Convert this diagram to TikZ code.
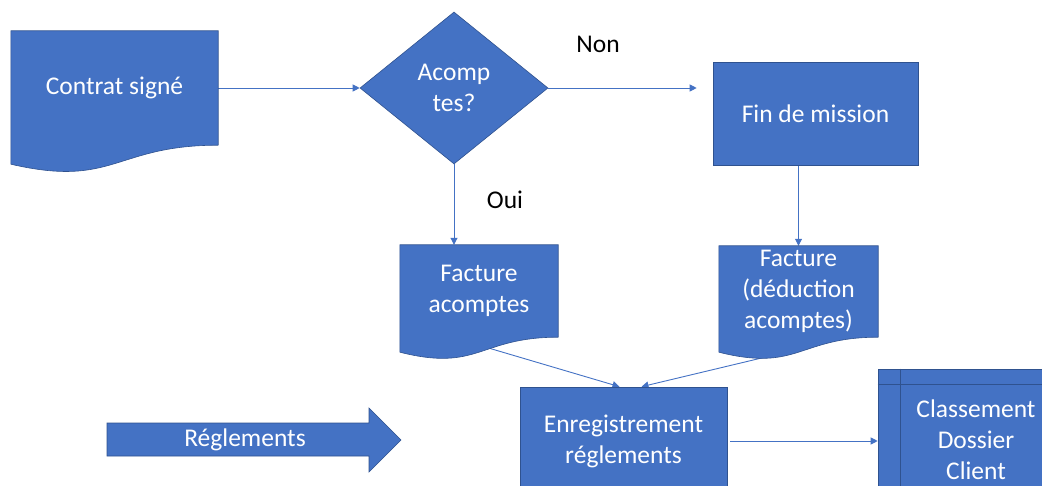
\documentclass[tikz,border=0pt]{standalone}
\usepackage{fontspec}
\setmainfont{Carlito}
\usetikzlibrary{shapes.geometric,arrows.meta,calc}
\definecolor{boxblue}{HTML}{4472C4}
\definecolor{boxedge}{HTML}{2F528F}
\pgfdeclarelayer{lines}
\pgfdeclarelayer{background}
\pgfsetlayers{lines,background,main}

% document shape: wavy bottom under the text node #1
\newcommand{\docwave}[3]{%
  \begin{pgfonlayer}{background}
    \filldraw[box] (#1.north west) -- (#1.north east) -- (#1.south east)
      .. controls (#1.south) and ($(#1.south)+(0,#2)$) .. ($(#1.south west)+(0,#3)$) -- cycle;
  \end{pgfonlayer}}

\begin{document}
\begin{tikzpicture}[x=1pt,y=-1pt,
    box/.style={fill=boxblue, draw=boxedge, line width=0.6pt},
    txt/.style={text=white, font=\fontsize{25.5}{31}\selectfont, align=center, inner sep=0pt},
    lbl/.style={font=\fontsize{25.5}{31}\selectfont, inner sep=0pt},
    link/.style={draw=boxblue, line width=0.9pt, -{Triangle[length=7pt,width=7pt]}}]
  \clip (0,0) rectangle (1042,486);

  \node[txt, minimum width=207, minimum height=114] (ctr) at (114.5,88) {Contrat signé};
  \docwave{ctr}{43}{19}
  \node[txt, box, diamond, minimum width=188, minimum height=152] (dec) at (454,88) {Acomp\\tes?};
  \node[txt, box, minimum width=205, minimum height=103] (fin) at (815.5,113.5) {Fin de mission};
  \node[txt, minimum width=158, minimum height=92] (fac1) at (479,291) {Facture\\acomptes};
  \docwave{fac1}{35}{15}
  \node[txt, minimum width=159, minimum height=91] (fac2) at (798.5,291.5) {Facture\\(déduction\\acomptes)};
  \docwave{fac2}{35}{15}
  \node[txt, box, minimum width=207, minimum height=108] (enr) at (623.5,441) {Enregistrement\\réglements};

  % stockage interne
  \node[txt, box, minimum width=196, minimum height=142] (cls) at (976,440) {Classement\\Dossier\\Client};
  \draw[boxedge, line width=0.6pt] ($(cls.north west)+(0,16)$) -- ($(cls.north east)+(0,16)$);
  \draw[boxedge, line width=0.6pt] ($(cls.north west)+(23,0)$) -- ($(cls.south west)+(23,0)$);

  % fleche pleine
  \filldraw[box] (107,423) -- (369,423) -- (369,408) -- (401,440) -- (369,472) -- (369,456) -- (107,456) -- cycle;
  \node[txt] (reg) at (245,440) {Réglements};

  \node[lbl] (non) at (598,44) {Non};
  \node[lbl] (oui) at (505,200) {Oui};

  \begin{pgfonlayer}{lines}
    \draw[link] (ctr.east) -- (dec.west);
    \draw[link, shorten >=16pt] (dec.east) -- (dec.east -| fin.west);
    \draw[link] (dec.south) -- (dec.south |- fac1.north);
    \draw[link] (fac2.north |- fin.south) -- (fac2.north);
    \draw[link] ($(fac1.south)+(0,8)$) -- ([xshift=-4pt]enr.north);
    \draw[link] ($(fac2.south)+(0,12)$) -- ([xshift=18pt]enr.north);
    \draw[link, shorten <=3pt] (enr.east) -- (enr.east -| cls.west);
  \end{pgfonlayer}
\end{tikzpicture}
\end{document}
